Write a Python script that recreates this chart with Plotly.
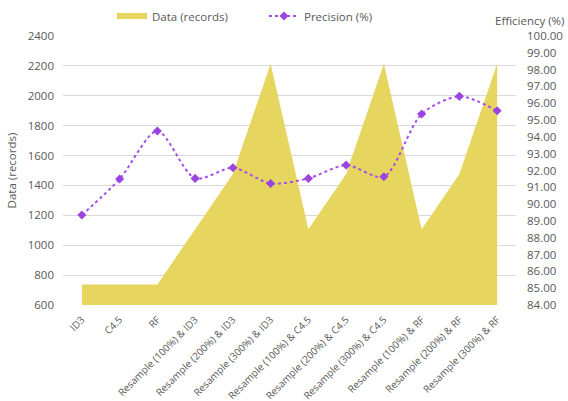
import plotly.graph_objects as go

categories = ["ID3", "C4.5", "RF",
              "Resample (100%) & ID3", "Resample (200%) & ID3", "Resample (300%) & ID3",
              "Resample (100%) & C4.5", "Resample (200%) & C4.5", "Resample (300%) & C4.5",
              "Resample (100%) & RF", "Resample (200%) & RF", "Resample (300%) & RF"]
data_records = [738, 738, 738, 1107, 1476, 2214, 1107, 1476, 2214, 1107, 1476, 2214]
precision = [89.35, 91.49, 94.35, 91.53, 92.16, 91.23, 91.53, 92.32, 91.63, 95.36, 96.41, 95.55]
left_ticks = [600, 800, 1000, 1200, 1400, 1600, 1800, 2000, 2200, 2400]
right_ticks = [84 + i for i in range(17)]

FONT = "Open Sans"
GRAY = "#595959"
AREA = "#E6D55E"
PURPLE = "#A64EEA"
FS = 11.5

x_idx = list(range(len(categories)))

fig = go.Figure()
fig.add_trace(go.Scatter(
    x=x_idx, y=data_records, name="Data (records)", mode="none",
    fill="tozeroy", fillcolor=AREA, yaxis="y", hoverinfo="skip"))
fig.add_trace(go.Scatter(
    x=x_idx, y=precision, name="Precision (%)", mode="lines+markers",
    line=dict(color=PURPLE, width=2, dash="dot", shape="spline", smoothing=0.8),
    marker=dict(symbol="diamond", size=7, color="#9B45E0"),
    yaxis="y2"))

fig.update_layout(
    width=568, height=401,
    margin=dict(l=63, r=52, t=36, b=96, autoexpand=False),
    paper_bgcolor="white", plot_bgcolor="white",
    font=dict(family=FONT, size=FS, color=GRAY),
    showlegend=True,
    legend=dict(orientation="h", x=(112 - 63) / 453, xref="paper", xanchor="left",
                y=(305 - 16) / 269, yref="paper", yanchor="middle",
                font=dict(family=FONT, size=FS, color=GRAY),
                itemwidth=30, entrywidth=107, entrywidthmode="pixels",
                bgcolor="rgba(0,0,0,0)"),
    xaxis=dict(range=[-0.5, len(categories) - 0.5], tickmode="array",
               tickvals=x_idx, ticktext=categories, tickangle=-45,
               showgrid=False, zeroline=False, showline=False, ticks="",
               automargin=False, ticklabelstandoff=6,
               tickfont=dict(family=FONT, size=10, color=GRAY)),
    yaxis=dict(range=[600, 2400], tickvals=left_ticks, showgrid=True,
               gridcolor="#D9D9D9", gridwidth=1, zeroline=False, showline=False,
               ticks="", automargin=False, ticklabelstandoff=8,
               tickfont=dict(family=FONT, size=FS, color=GRAY),
               title=dict(text="Data (records)", font=dict(family=FONT, size=FS, color=GRAY),
                          standoff=8)),
    yaxis2=dict(range=[84, 100], tickvals=right_ticks,
                ticktext=[f"{v:.2f}" for v in right_ticks],
                overlaying="y", side="right", showgrid=False, zeroline=False,
                showline=False, ticks="", automargin=False, ticklabelstandoff=10,
                tickfont=dict(family=FONT, size=FS, color=GRAY)),
    annotations=[dict(text="Efficiency (%)", xref="paper", yref="paper",
                      x=(567 - 63) / 453, y=(305 - 20) / 269, xanchor="right", yanchor="middle",
                      showarrow=False, font=dict(family=FONT, size=FS, color=GRAY))],
)

fig.write_html("out.html")
